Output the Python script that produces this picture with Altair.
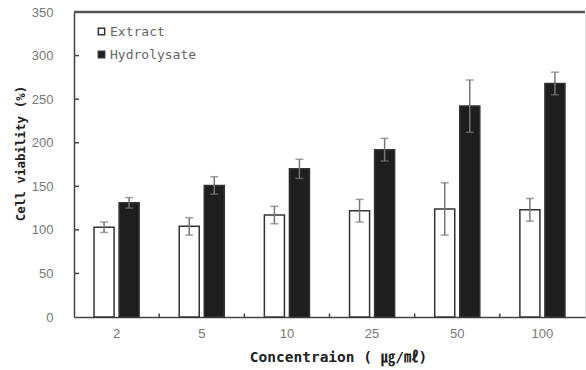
import altair as alt
import pandas as pd

conc = ["2", "5", "10", "25", "50", "100"]
series = ["Extract", "Hydrolysate"]
extract = [103, 104, 117, 122, 124, 123]
extract_err = [6, 10, 10, 13, 30, 13]
hydro = [131, 151, 170, 192, 242, 268]
hydro_err = [6, 10, 11, 13, 30, 13]
y_ticks = [0, 50, 100, 150, 200, 250, 300, 350]
y_inner_ticks = [50, 100, 150, 200, 250, 300]

rows = []
for i, c in enumerate(conc):
    rows.append(dict(conc=c, series="Extract", value=extract[i], err=extract_err[i]))
    rows.append(dict(conc=c, series="Hydrolysate", value=hydro[i], err=hydro_err[i]))
df = pd.DataFrame(rows)
df["lo"] = df["value"] - df["err"]
df["hi"] = df["value"] + df["err"]

mono = "DejaVu Sans Mono, Noto Sans CJK KR"
tickfont = "Liberation Sans"
xtitle = "Concentraion ( ㎍/㎖)"
ytitle = "Cell viability (%)"

xscale = alt.Scale(paddingInner=0, paddingOuter=0)
yscale = alt.Scale(domain=[0, 350], nice=False)
xaxis = alt.Axis(
    labelAngle=0, tickSize=0, labelPadding=10,
    labelFont=tickfont, labelFontSize=13, labelColor="#777",
    domainColor="#444", domainWidth=1.5,
    titleFont=mono, titleFontSize=14.5, titleFontWeight="bold", titleColor="#222",
    titleX=264, titleY=40, titleBaseline="middle", titleAlign="center",
)
yaxis = alt.Axis(
    values=y_ticks, tickSize=0, grid=False, labelPadding=21,
    labelFont=tickfont, labelFontSize=13, labelColor="#777",
    domainColor="#444", domainWidth=1.5,
    titleFont=mono, titleFontSize=12.5, titleFontWeight="bold", titleColor="#222",
    titleX=-54, titleY=141, titleBaseline="middle", titleAlign="center", titleAngle=270,
)
xoff = alt.XOffset("series:N", sort=series, scale=alt.Scale(paddingInner=0.2, paddingOuter=0.8))


def X(**kw):
    return alt.X("conc:N", sort=conc, scale=xscale, axis=xaxis, title=xtitle, **kw)


def Y(field):
    return alt.Y(field, scale=yscale, axis=yaxis, title=ytitle)


base = alt.Chart(df)
bars = base.mark_bar(stroke="#333", strokeWidth=1.5).encode(
    x=X(),
    xOffset=xoff,
    y=Y("value:Q"),
    fill=alt.Fill(
        "series:N", sort=series,
        scale=alt.Scale(domain=series, range=["#ffffff", "#1e1e1e"]),
        legend=alt.Legend(
            title=None, orient="none", legendX=21, legendY=13, padding=0,
            symbolType="square", symbolSize=40, symbolStrokeColor="#333", symbolStrokeWidth=1.5,
            labelFont=mono, labelFontSize=13, labelColor="#666", rowPadding=9, labelOffset=2,
        ),
    ),
)

err_rule = base.mark_rule(color="#777", strokeWidth=1.5).encode(
    x=X(), xOffset=xoff, y=Y("lo:Q"), y2="hi:Q"
)
cap_lo = base.mark_tick(color="#777", size=8, thickness=1.5).encode(
    x=X(), xOffset=xoff, y=Y("lo:Q")
)
cap_hi = base.mark_tick(color="#777", size=8, thickness=1.5).encode(
    x=X(), xOffset=xoff, y=Y("hi:Q")
)

ytick_marks = alt.Chart(pd.DataFrame({"v": y_inner_ticks})).mark_rule(color="#444", strokeWidth=1.5).encode(
    y=Y("v:Q"), x=alt.value(0), x2=alt.value(5)
)
xtick_marks = alt.Chart(pd.DataFrame({"conc": conc[1:]})).mark_rule(color="#444", strokeWidth=1.5).encode(
    x=X(bandPosition=0), y=alt.datum(0), y2=alt.datum(4)
)
top_border = alt.Chart(pd.DataFrame({"t": [350]})).mark_rule(color="#555", strokeWidth=2.5).encode(
    y=Y("t:Q")
)

chart = alt.layer(bars, err_rule, cap_lo, cap_hi, ytick_marks, xtick_marks, top_border).properties(
    width=511, height=305,
    autosize=alt.AutoSizeParams(type="none"),
    padding={"left": 74, "top": 12, "right": 1, "bottom": 53},
).configure_view(stroke="#e4e4e4").configure(background="white")

chart.save("out.html", embed_options={"renderer": "svg", "actions": False})
